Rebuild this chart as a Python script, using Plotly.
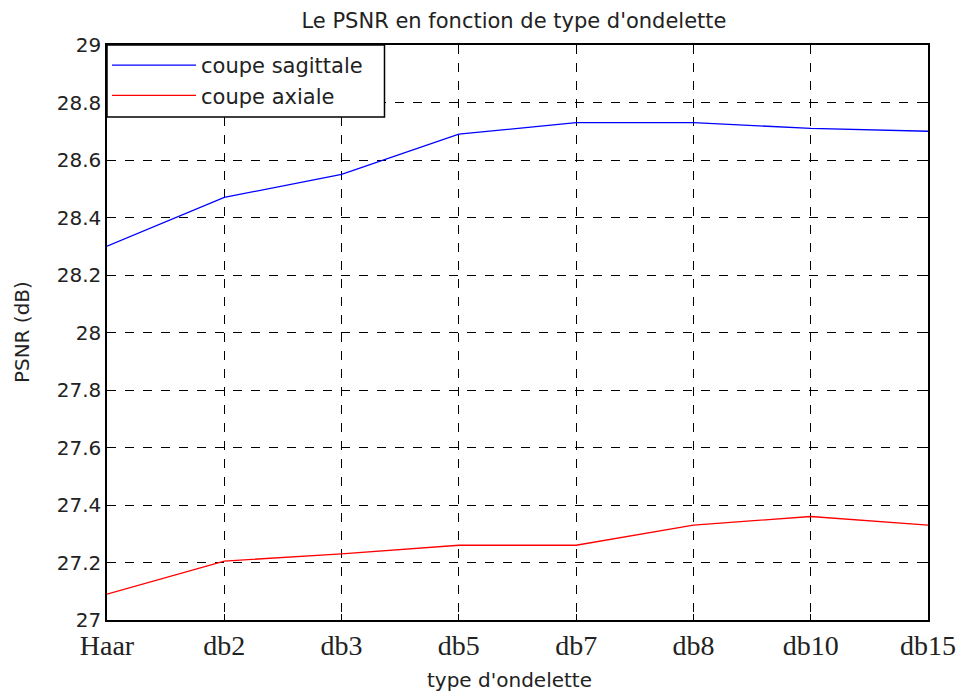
import plotly.graph_objects as go

# Wavelet types along the x axis
wavelets = ["Haar", "db2", "db3", "db5", "db7", "db8", "db10", "db15"]

# PSNR (dB) for each anatomical slice
psnr_sagittale = [28.30, 28.47, 28.55, 28.69, 28.73, 28.73, 28.71, 28.70]
psnr_axiale = [27.09, 27.205, 27.23, 27.26, 27.26, 27.33, 27.36, 27.33]

y_ticks = [27, 27.2, 27.4, 27.6, 27.8, 28, 28.2, 28.4, 28.6, 28.8, 29]
y_tick_text = ["27", "27.2", "27.4", "27.6", "27.8", "28", "28.2", "28.4", "28.6", "28.8", "29"]

fig = go.Figure()
fig.add_trace(go.Scatter(x=wavelets, y=psnr_sagittale, mode="lines",
                         name="coupe sagittale", line=dict(color="#0000ff", width=1.3)))
fig.add_trace(go.Scatter(x=wavelets, y=psnr_axiale, mode="lines",
                         name="coupe axiale", line=dict(color="#ff0000", width=1.3)))

sans = "DejaVu Sans, Verdana, sans-serif"
serif = "Liberation Serif, Times New Roman, serif"
ink = "#222222"

fig.update_layout(
    width=959, height=693,
    margin=dict(l=107, r=31, t=45, b=73),
    paper_bgcolor="white", plot_bgcolor="white",
    font=dict(family=sans, size=20, color=ink),
    title=dict(text="Le PSNR en fonction de type d'ondelette", x=0.536, xanchor="center",
               y=0.970, yanchor="middle", font=dict(family=sans, size=21, color=ink)),
    showlegend=True,
    legend=dict(x=0, y=1, xanchor="left", yanchor="top", bgcolor="rgba(0,0,0,0)",
                borderwidth=0, font=dict(family=sans, size=21, color=ink),
                itemwidth=84),
    # framed white box behind the legend entries
    shapes=[dict(type="rect", xref="paper", yref="paper", x0=0, x1=0.338, y0=0.875, y1=1,
                 fillcolor="white", line=dict(color="black", width=1.5), layer="above")],
    annotations=[
        dict(text="type d'ondelette", xref="paper", yref="paper", x=0.49, y=-0.105,
             xanchor="center", yanchor="middle", showarrow=False,
             font=dict(family=sans, size=20, color=ink)),
        dict(text="PSNR (dB)", xref="paper", yref="paper", x=-0.104, y=0.5,
             xanchor="center", yanchor="middle", showarrow=False, textangle=-90,
             font=dict(family=sans, size=20, color=ink)),
    ],
)

fig.update_xaxes(
    type="category", range=[0, 7], automargin=False,
    tickfont=dict(family=serif, size=28, color=ink),
    showline=True, linecolor="black", linewidth=1.5, mirror="ticks",
    ticks="inside", ticklen=6, tickcolor="black",
    showgrid=True, gridcolor="black", gridwidth=1, griddash="dash",
    zeroline=False,
)
fig.update_yaxes(
    range=[27, 29], tickvals=y_ticks, ticktext=y_tick_text, automargin=False,
    tickfont=dict(family=sans, size=20, color=ink),
    showline=True, linecolor="black", linewidth=1.5, mirror="ticks",
    ticks="inside", ticklen=6, tickcolor="black",
    showgrid=True, gridcolor="black", gridwidth=1, griddash="dash",
    zeroline=False,
)

fig.write_html("out.html")
